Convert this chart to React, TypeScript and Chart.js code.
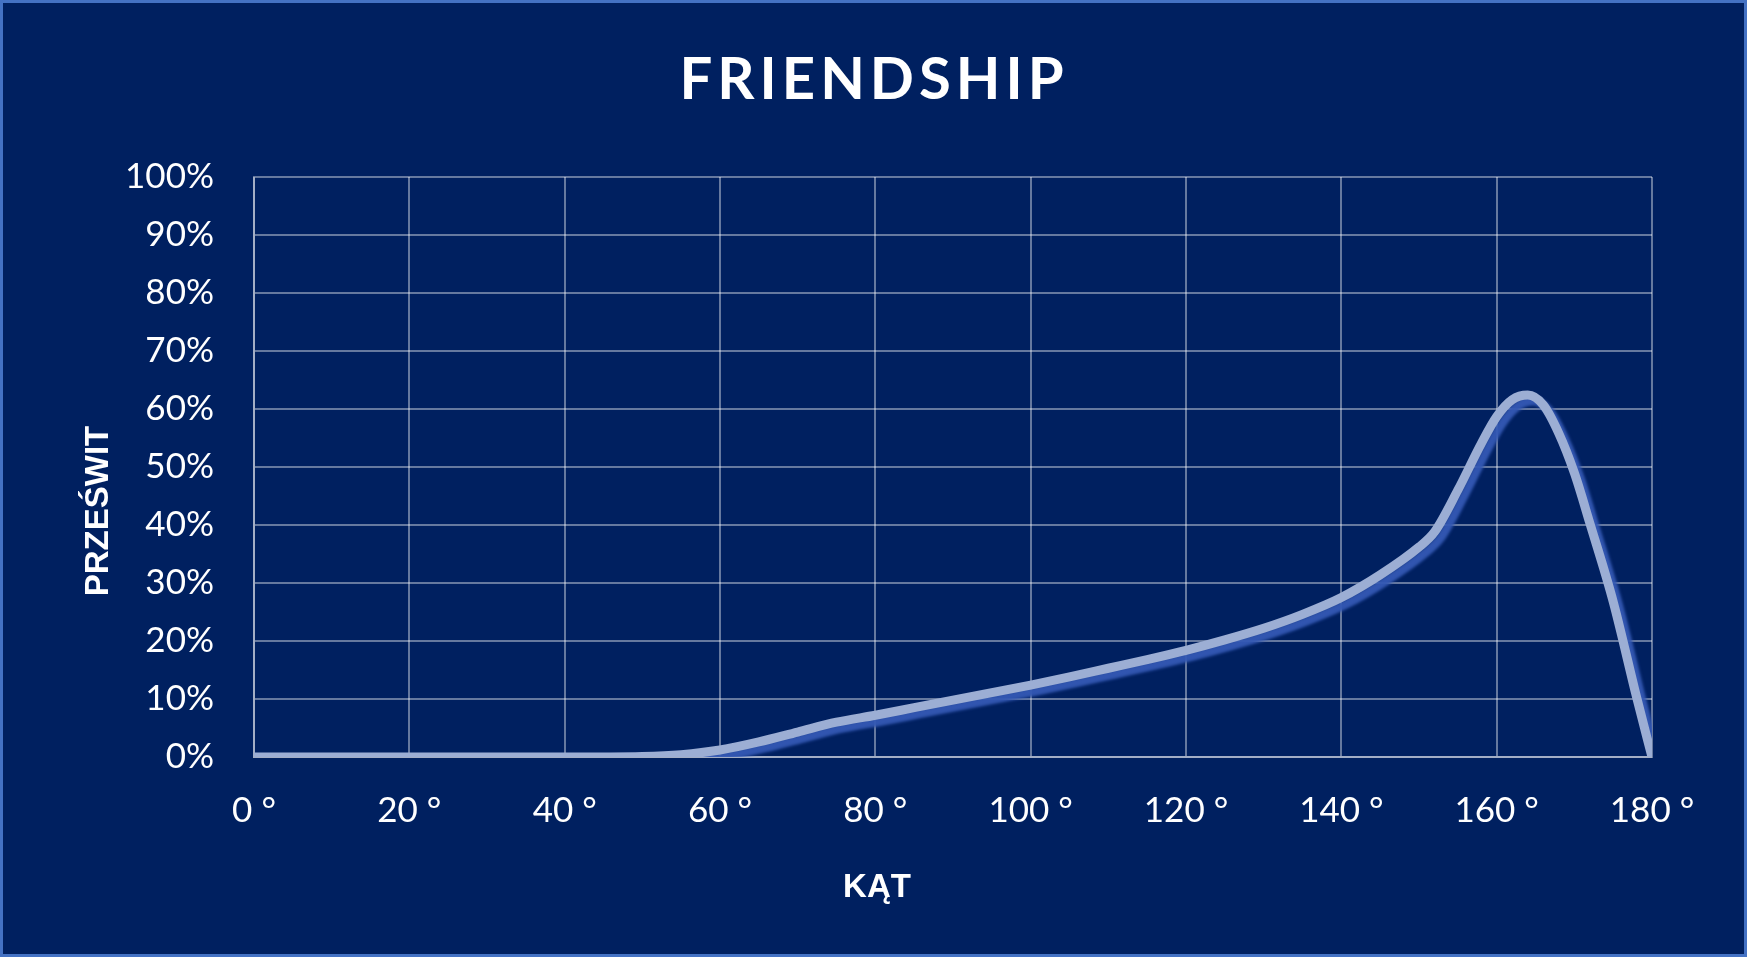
import { useEffect, useRef } from 'react';
import Chart from 'chart.js/auto';

// kąt (deg) vs prześwit (%)
const angles = [0, 10, 20, 30, 40, 50, 55, 60, 65, 70, 75, 80, 85, 90, 95, 100, 105, 110, 115, 120, 125, 130, 135, 140, 145, 150, 152, 155, 158, 160, 162, 164, 166, 168, 170, 172, 175, 178, 180];
const transmission = [0, 0, 0, 0, 0, 0.1, 0.4, 1.2, 2.6, 4.3, 6.0, 7.2, 8.5, 9.8, 11.1, 12.4, 13.8, 15.3, 16.8, 18.4, 20.2, 22.2, 24.6, 27.5, 31.4, 36.2, 38.8, 46, 54, 58.7, 61.6, 62.4, 60.7, 55.8, 49, 40.3, 26.8, 10.4, 0];

const angleTicks = [0, 20, 40, 60, 80, 100, 120, 140, 160, 180];
const percentTicks = [0, 10, 20, 30, 40, 50, 60, 70, 80, 90, 100];

const TITLE = 'FRIENDSHIP';
const X_TITLE = 'KĄT';
const Y_TITLE = 'PRZEŚWIT';

const BG = '#002060';
const FRAME = '#4472C4';
const GRID = 'rgba(255,255,255,0.4)';

const decorPlugin = {
  id: 'decor',
  beforeDraw(chart: Chart) {
    const { ctx, width, height } = chart;
    ctx.save();
    ctx.fillStyle = BG;
    ctx.fillRect(0, 0, width, height);
    ctx.strokeStyle = FRAME;
    ctx.lineWidth = 3;
    ctx.strokeRect(1.5, 1.5, width - 3, height - 3);
    ctx.restore();
  },
  afterDraw(chart: Chart) {
    const { ctx } = chart;
    ctx.save();
    ctx.fillStyle = '#ffffff';
    ctx.textAlign = 'center';
    ctx.textBaseline = 'middle';

    // chart title, spaced out
    ctx.font = 'bold 58px Lato';
    (ctx as any).letterSpacing = '5px';
    ctx.fillText(TITLE, 874, 80);
    (ctx as any).letterSpacing = '0px';

    // axis titles
    ctx.font = 'bold 33px "Liberation Sans"';
    ctx.fillText(X_TITLE, 877, 888);
    ctx.translate(99, 511);
    ctx.rotate(-Math.PI / 2);
    ctx.fillText(Y_TITLE, 0, 0);
    ctx.restore();
  },
};

// soft blue shadow under the curve
const shadowPlugin = {
  id: 'lineShadow',
  beforeDatasetDraw(chart: Chart) {
    const ctx = chart.ctx;
    ctx.save();
    ctx.shadowColor = 'rgba(52,88,180,0.95)';
    ctx.shadowOffsetX = 6;
    ctx.shadowOffsetY = 6;
    ctx.shadowBlur = 3;
  },
  afterDatasetDraw(chart: Chart) {
    chart.ctx.restore();
  },
};

export default function App() {
  const canvasRef = useRef<HTMLCanvasElement>(null);
  const chartRef = useRef<Chart | null>(null);

  useEffect(() => {
    if (!canvasRef.current) return;
    if (chartRef.current) chartRef.current.destroy();

    const tickFont = { family: 'Lato', size: 35 };

    chartRef.current = new Chart(canvasRef.current, {
      type: 'line',
      data: {
        datasets: [
          {
            data: angles.map((a, i) => ({ x: a, y: transmission[i] })),
            borderColor: '#9CAED4',
            borderWidth: 9,
            pointRadius: 0,
            cubicInterpolationMode: 'monotone',
            borderJoinStyle: 'round',
            borderCapStyle: 'round',
          },
        ],
      },
      options: {
        responsive: false,
        animation: false,
        layout: { padding: { left: 0, top: 177, right: 95, bottom: 0 } },
        plugins: {
          legend: { display: false },
          tooltip: { enabled: false },
          title: { display: false },
        },
        scales: {
          x: {
            type: 'linear',
            min: 0,
            max: 180,
            afterBuildTicks: (scale: any) => {
              scale.ticks = angleTicks.map(v => ({ value: v }));
            },
            afterFit: (scale: any) => {
              scale.height = 200;
            },
            grid: { color: GRID, lineWidth: 2, drawTicks: false },
            border: { color: GRID, width: 2 },
            ticks: {
              color: '#ffffff',
              font: tickFont,
              padding: 33,
              maxRotation: 0,
              autoSkip: false,
              callback: (v: any) => `${v} °`,
            },
          },
          y: {
            min: 0,
            max: 100,
            afterBuildTicks: (scale: any) => {
              scale.ticks = percentTicks.map(v => ({ value: v }));
            },
            afterFit: (scale: any) => {
              scale.width = 254;
            },
            grid: { color: GRID, lineWidth: 2, drawTicks: false },
            border: { color: GRID, width: 2 },
            ticks: {
              color: '#ffffff',
              font: tickFont,
              padding: 40,
              callback: (v: any) => `${v}%`,
            },
          },
        },
      },
      plugins: [decorPlugin, shadowPlugin],
    });

    return () => {
      if (chartRef.current) {
        chartRef.current.destroy();
        chartRef.current = null;
      }
    };
  }, []);

  return (
    <div style={{ position: 'absolute', left: 0, top: 0, width: 1747, height: 957 }}>
      <canvas ref={canvasRef} width={1747} height={957} />
    </div>
  );
}
